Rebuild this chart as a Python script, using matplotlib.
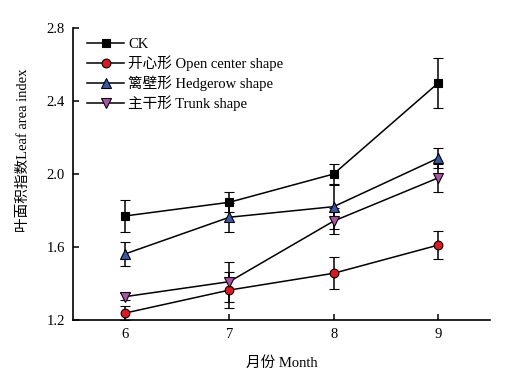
import matplotlib.pyplot as plt

months = [6, 7, 8, 9]

ck = [1.77, 1.845, 2.0, 2.497]
ck_err = [0.087, 0.055, 0.055, 0.137]

open_center = [1.238, 1.364, 1.456, 1.61]
open_center_err = [0.04, 0.1, 0.088, 0.077]

hedgerow = [1.562, 1.763, 1.821, 2.086]
hedgerow_err = [0.066, 0.08, 0.12, 0.055]

trunk = [1.328, 1.41, 1.742, 1.978]
trunk_err = [0.02, 0.11, 0.07, 0.077]

labels = ['CK', '开心形 Open center shape', '篱壁形 Hedgerow shape', '主干形 Trunk shape']

plt.rcParams['font.family'] = ['Liberation Serif', 'Noto Sans CJK SC']

fig = plt.figure(figsize=(5.08, 3.86), dpi=100)
ax = fig.add_axes([0.1437, 0.171, 0.8209, 0.7565])

styles = [
    (ck, ck_err, 's', 'black', 6),
    (open_center, open_center_err, 'o', '#e8141c', 6.3),
    (hedgerow, hedgerow_err, '^', '#3559a8', 6.8),
    (trunk, trunk_err, 'v', '#b050a8', 6.8),
]
for (vals, errs, mk, col, ms), lab in zip(styles, labels):
    ax.errorbar(months, vals, yerr=errs, color='black', lw=1.1, elinewidth=1.1,
                capsize=3.3, capthick=1.1, marker=mk, markersize=ms,
                markerfacecolor=col, markeredgecolor='black', markeredgewidth=0.8,
                label=lab)

ax.set_xlim(5.5, 9.5)
ax.set_ylim(1.2, 2.8)
ax.set_xticks(months)
ax.set_yticks([1.2, 1.6, 2.0, 2.4, 2.8])
ax.set_yticklabels(['1.2', '1.6', '2.0', '2.4', '2.8'])
ax.tick_params(direction='in', length=4.5, width=1.1, labelsize=10.5, pad=6)
ax.spines['top'].set_visible(False)
ax.spines['right'].set_visible(False)
ax.spines['left'].set_linewidth(1.2)
ax.spines['bottom'].set_linewidth(1.2)

ax.set_xlabel('月份 Month', fontsize=10.5, labelpad=11)
ax.set_ylabel('叶面积指数Leaf area index', fontsize=10.5)
ax.yaxis.set_label_coords(-0.102, 0.58)

handles, labs = ax.get_legend_handles_labels()
handles = [h[0] for h in handles]
ax.legend(handles, labs, loc='upper left', frameon=False, fontsize=10.5,
          handlelength=2.5, handletextpad=0.3, labelspacing=0.28,
          borderaxespad=0.3, bbox_to_anchor=(0.01, 1.0))

fig.savefig('out.png', dpi=100)
